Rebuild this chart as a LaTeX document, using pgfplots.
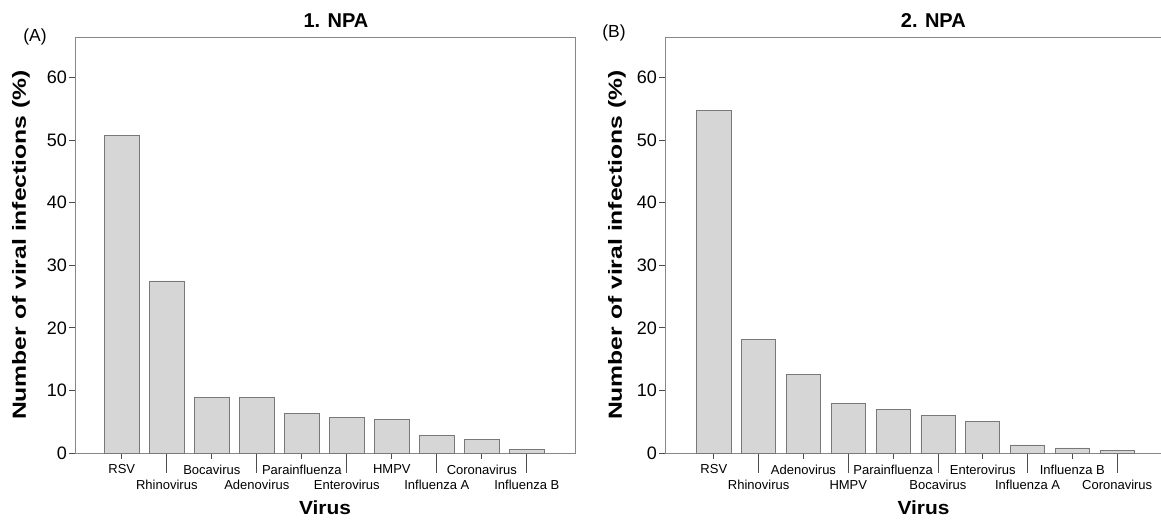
\documentclass[border=0pt]{standalone}
\usepackage{pgfplots}
\pgfplotsset{compat=1.18}
\usepackage{fontspec}
\setmainfont{Liberation Sans}
\newfontfamily\ylabfont[FakeStretch=1.3]{Liberation Sans}
\newfontfamily\xlabfont[FakeStretch=1.1]{Liberation Sans}
\definecolor{barfill}{RGB}{214,214,214}
\definecolor{baredge}{RGB}{120,120,120}
\definecolor{axgray}{RGB}{135,135,135}
\pgfplotsset{
  npa/.style={
    scale only axis,
    height=416pt,
    ymin=0, ymax=66.5,
    ytick={0,10,20,30,40,50,60},
    tick align=outside,
    major tick length=6pt,
    xtick pos=lower, ytick pos=left,
    axis line style={axgray, line width=0.9pt},
    tick style={black!70, line width=0.8pt},
    /pgf/number format/assume math mode=true,
    yticklabel style={font=\fontsize{18}{20}\selectfont, inner sep=2pt},
    xticklabel style={font=\fontsize{13}{15}\selectfont, inner sep=3pt, yshift=-2.5pt},
    xtick={0,2,4,6,8},
    extra x ticks={1,3,5,7,9},
    extra x tick style={major tick length=20pt, xticklabel style={font=\fontsize{13}{15}\selectfont, inner sep=3pt, yshift=-1.5pt}},
    every axis y label/.style={rotate=90, anchor=center, font=\ylabfont\bfseries\fontsize{19}{21}\selectfont},
    every axis x label/.style={at={(axis description cs:0.5,0)}, anchor=base, yshift=-62pt, font=\xlabfont\bfseries\fontsize{19}{21}\selectfont},
    ylabel={Number of viral infections (\%)},
    xlabel={Virus},
    title style={anchor=base, yshift=3pt, font=\bfseries\fontsize{20}{22}\selectfont},
    ybar, bar width=0.76,
    clip=false,
  }
}
\begin{document}
\begin{tikzpicture}
\begin{axis}[npa,
  width=500pt,
  xmin=-1.04, xmax=10.07,
  xticklabels={RSV,Bocavirus,Parainfluenza,HMPV,Coronavirus},
  extra x tick labels={Rhinovirus,Adenovirus,Enterovirus,Influenza A,Influenza B},
  every axis y label/.append style={at={(axis description cs:-0.108,0.5)}},
  title={1. NPA},
  title style={at={(axis description cs:0.522,1)}},
]
\addplot[fill=barfill, draw=baredge, line width=0.7pt] coordinates {
  (0,50.7) (1,27.5) (2,8.85) (3,8.85) (4,6.3) (5,5.66) (6,5.34) (7,2.85) (8,2.15) (9,0.6)
};
\node[font=\fontsize{17.5}{19}\selectfont, anchor=center] at ([xshift=-40pt]axis description cs:0,1) {(A)};
\end{axis}
\begin{axis}[npa,
  at={(590pt,0pt)},
  width=497pt,
  xmin=-1.09, xmax=10.0,
  xticklabels={RSV,Adenovirus,Parainfluenza,Enterovirus,Influenza B},
  extra x tick labels={Rhinovirus,HMPV,Bocavirus,Influenza A,Coronavirus},
  every axis y label/.append style={at={(axis description cs:-0.0966,0.5)}},
  title={2. NPA},
  title style={at={(axis description cs:0.54,1)}},
  every axis x label/.append style={at={(axis description cs:0.52,0)}},
]
\addplot[fill=barfill, draw=baredge, line width=0.7pt] coordinates {
  (0,54.7) (1,18.2) (2,12.6) (3,7.9) (4,6.9) (5,6.0) (6,5.0) (7,1.3) (8,0.8) (9,0.4)
};
\node[font=\fontsize{17.5}{19}\selectfont, anchor=center] at ([xshift=-51pt,yshift=4pt]axis description cs:0,1) {(B)};
\end{axis}
\pgfresetboundingbox
\useasboundingbox (-75pt,-68pt) rectangle (1086pt,453pt);
\end{tikzpicture}
\end{document}
